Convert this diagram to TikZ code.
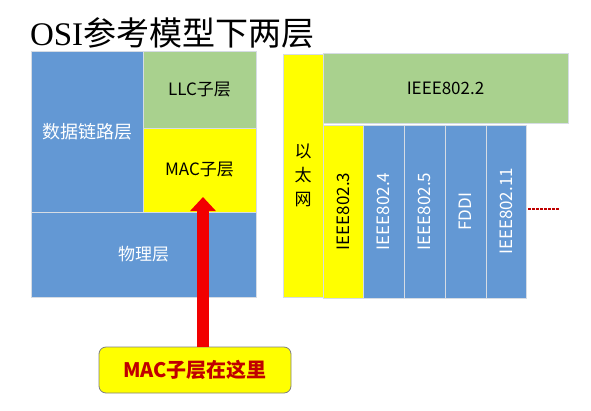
\documentclass[tikz,border=0pt]{standalone}
\usepackage{fontspec}
\setmainfont{Liberation Serif}
\newfontfamily\cjk{Noto Sans CJK SC}
\usetikzlibrary{arrows.meta, positioning}
\definecolor{layblue}{HTML}{6398D4}
\definecolor{laygreen}{HTML}{A9D18E}
\definecolor{layyellow}{HTML}{FFFF00}
\definecolor{markred}{HTML}{C00000}
\definecolor{edgegray}{HTML}{D6DCE4}

\begin{document}
\begin{tikzpicture}[x=1pt, y=-1pt, every node/.style={inner sep=0pt, outer sep=0pt},
	blk/.style={draw=edgegray, line width=0.8pt, anchor=north west, align=center, font=\cjk\fontsize{17}{24}\selectfont},
	bluebox/.style={blk, fill=layblue, text=white},
	greenbox/.style={blk, fill=laygreen, text=black},
	yellowbox/.style={blk, fill=layyellow, text=black},
	col/.style={minimum width=41pt, minimum height=173pt}]
			\fill[white] (0,0) rectangle (591,410);
			\useasboundingbox (0,0) rectangle (591,410);
			
			\node[anchor=base west] (title) at (30,45) {\fontsize{33}{33}\selectfont OSI{\cjk\fontsize{33}{33}\selectfont 参考模型下两层}};
			
			% left: OSI layers
			\node[bluebox, minimum width=112pt, minimum height=161pt, font=\cjk\fontsize{18}{24}\selectfont] (dll) at (31,51) {数据链路层};
			\node[greenbox, minimum width=113pt, minimum height=77pt] (llc) at (dll.north east) {LLC子层};
			\node[yellowbox, minimum width=113pt, minimum height=84pt] (mac) at (llc.south west) {MAC子层};
			\node[bluebox, minimum width=225pt, minimum height=85pt] (phy) at (dll.south west) {物理层};
			
			% right: IEEE 802
			\node[yellowbox, minimum width=40pt, minimum height=243pt] (eth) at (283,54) {以\\太\\网};
			\node[greenbox, minimum width=245pt, minimum height=70pt] (i2) at (323,53) {IEEE802.2};
			\node[yellowbox, col, minimum width=40pt] (i3) at (323,125) {\rotatebox{90}{IEEE802.3}};
			\node[bluebox, col] (i4) at (i3.north east) {\rotatebox{90}{IEEE802.4}};
			\node[bluebox, col] (i5) at (i4.north east) {\rotatebox{90}{IEEE802.5}};
			\node[bluebox, col] (fddi) at (i5.north east) {\rotatebox{90}{FDDI}};
			\node[bluebox, col, minimum width=40pt] (i11) at (fddi.north east) {\rotatebox{90}{IEEE802.11}};
			\coordinate (more) at (560,209);
			\draw[markred, line width=1.5pt, dash pattern=on 2.5pt off 1.5pt] (i11.east |- more) ++(2,0) -- (more);
			
			% callout
			\node[draw=gray, line width=0.8pt, rounded corners=7pt, fill=layyellow, minimum width=192pt, minimum height=46pt, text=markred, font=\cjk\bfseries\fontsize{20}{20}\selectfont] (call) at (195,370) {MAC子层在这里};
			\coordinate (tip) at (203,197);
			\draw[red!95!black, line width=12pt, -{Triangle[width=25pt, length=14pt]}] (call.north -| tip) -- (tip);
\end{tikzpicture}
\end{document}
